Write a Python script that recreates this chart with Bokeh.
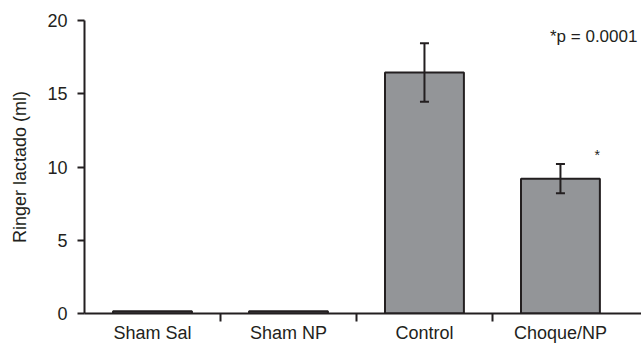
from bokeh.plotting import figure
from bokeh.models import Range1d, FixedTicker, ColumnDataSource, Whisker, TeeHead, Label
from bokeh.embed import file_html
from bokeh.resources import INLINE

categories = ["Sham Sal", "Sham NP", "Control", "Choque/NP"]
values = [0.15, 0.15, 16.45, 9.2]
errors = [0.0, 0.0, 2.0, 1.0]
y_ticks = [0, 5, 10, 15, 20]

xs = [i + 0.5 for i in range(len(categories))]

p = figure(width=641, height=345, output_backend="svg", toolbar_location=None,
           x_range=Range1d(0, 4.096), y_range=Range1d(0, 20),
           min_border_left=84, min_border_top=20, min_border_right=0, min_border_bottom=30)
p.outline_line_color = None
p.grid.grid_line_color = None

src = ColumnDataSource(dict(x=xs, top=values))
p.vbar(x="x", top="top", bottom=0, width=0.58, source=src,
       fill_color="#939598", line_color="#231f20", line_width=2)

esrc = ColumnDataSource(dict(x=xs[2:], up=[v + e for v, e in zip(values[2:], errors[2:])],
                             lo=[v - e for v, e in zip(values[2:], errors[2:])]))
w = Whisker(base="x", upper="up", lower="lo", source=esrc, line_color="#231f20", line_width=2,
            upper_head=TeeHead(size=9, line_width=2, line_color="#231f20"),
            lower_head=TeeHead(size=9, line_width=2, line_color="#231f20"),
            level="overlay")
p.add_layout(w)

p.add_layout(Label(x=3.77, y=10.85, text="*", text_font="Liberation Sans", text_font_size="14px",
                   text_color="#231f20", text_align="center", text_baseline="middle"))
p.add_layout(Label(x=4.066, y=18.9, text="*p = 0.0001", text_font="Liberation Sans",
                   text_font_size="17px", text_color="#231f20", text_align="right",
                   text_baseline="middle"))

xa = p.xaxis[0]
xa.ticker = FixedTicker(ticks=xs, minor_ticks=[1, 2, 3])
xa.major_label_overrides = {x: c for x, c in zip(xs, categories)}
xa.major_tick_out = 0
xa.major_tick_in = 0
xa.minor_tick_out = 8
xa.minor_tick_in = 0
xa.minor_tick_line_width = 2
xa.minor_tick_line_color = "#231f20"
xa.axis_line_width = 2
xa.axis_line_color = "#231f20"
xa.major_label_standoff = 1
xa.major_label_text_font = "Liberation Sans"
xa.major_label_text_font_size = "18px"
xa.major_label_text_color = "#231f20"

ya = p.yaxis[0]
ya.ticker = FixedTicker(ticks=y_ticks, minor_ticks=[])
ya.major_tick_out = 7
ya.major_tick_in = 0
ya.major_tick_line_width = 2
ya.major_tick_line_color = "#231f20"
ya.axis_line_width = 2
ya.axis_line_color = "#231f20"
ya.major_label_standoff = 10
ya.major_label_text_font = "Liberation Sans"
ya.major_label_text_font_size = "18px"
ya.major_label_text_color = "#231f20"
ya.axis_label = "Ringer lactado (ml)"
ya.axis_label_text_font = "Liberation Sans"
ya.axis_label_text_font_style = "normal"
ya.axis_label_text_font_size = "18px"
ya.axis_label_text_color = "#231f20"
ya.axis_label_standoff = 14

open("out.html", "w").write(file_html(p, INLINE))
